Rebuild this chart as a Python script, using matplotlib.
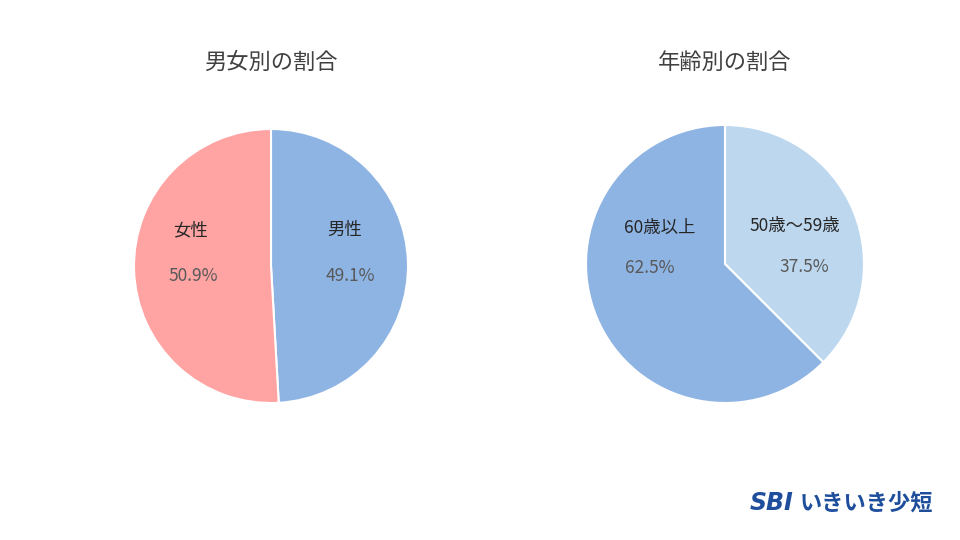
import matplotlib.pyplot as plt

plt.rcParams['font.family'] = ['Noto Sans CJK JP', 'DejaVu Sans']

# 男女別
gender_labels = ['男性', '女性']
gender_values = [49.1, 50.9]
gender_colors = ['#8EB4E3', '#FFA3A3']

# 年齢別
age_labels = ['50歳～59歳', '60歳以上']
age_values = [37.5, 62.5]
age_colors = ['#BDD7EE', '#8EB4E3']

fig = plt.figure(figsize=(9.6, 5.4), dpi=100)


def make_pie(cx, cy, r, title, values, labels, colors, offsets):
    ax = fig.add_axes([(cx - r) / 960, (540 - cy - r) / 540, 2 * r / 960, 2 * r / 540])
    ax.pie(values, colors=colors, startangle=90, counterclock=False,
           wedgeprops=dict(edgecolor='white', linewidth=1.5))
    ax.set_xlim(-1, 1)
    ax.set_ylim(-1, 1)
    ax.set_aspect('equal')
    for lab, val, (lx, ly, px, py) in zip(labels, values, offsets):
        ax.text(lx, ly, lab, ha='center', va='center', fontsize=12.5, color='#262626')
        ax.text(px, py, f'{val:.1f}%', ha='center', va='center', fontsize=12.5, color='#595959')
    fig.text(cx / 960, 1 - 62 / 540, title, ha='center', va='center', fontsize=16, color='#404040')


make_pie(271, 266, 137, '男女別の割合', gender_values, gender_labels, gender_colors,
         [(0.54, 0.26, 0.58, -0.07), (-0.59, 0.26, -0.57, -0.07)])
make_pie(725, 264, 139, '年齢別の割合', age_values, age_labels, age_colors,
         [(0.50, 0.27, 0.57, -0.02), (-0.47, 0.26, -0.54, -0.03)])

# ロゴ
fig.text(750 / 960, 1 - 503 / 540, 'SBI', fontsize=17, fontweight='bold', style='italic',
         color='#1F4E9C', ha='left', va='center', family='DejaVu Sans')
fig.text(800 / 960, 1 - 503 / 540, 'いきいき少短', fontsize=16, fontweight='bold',
         color='#1F4E9C', ha='left', va='center')

fig.savefig('out.png', dpi=100)
